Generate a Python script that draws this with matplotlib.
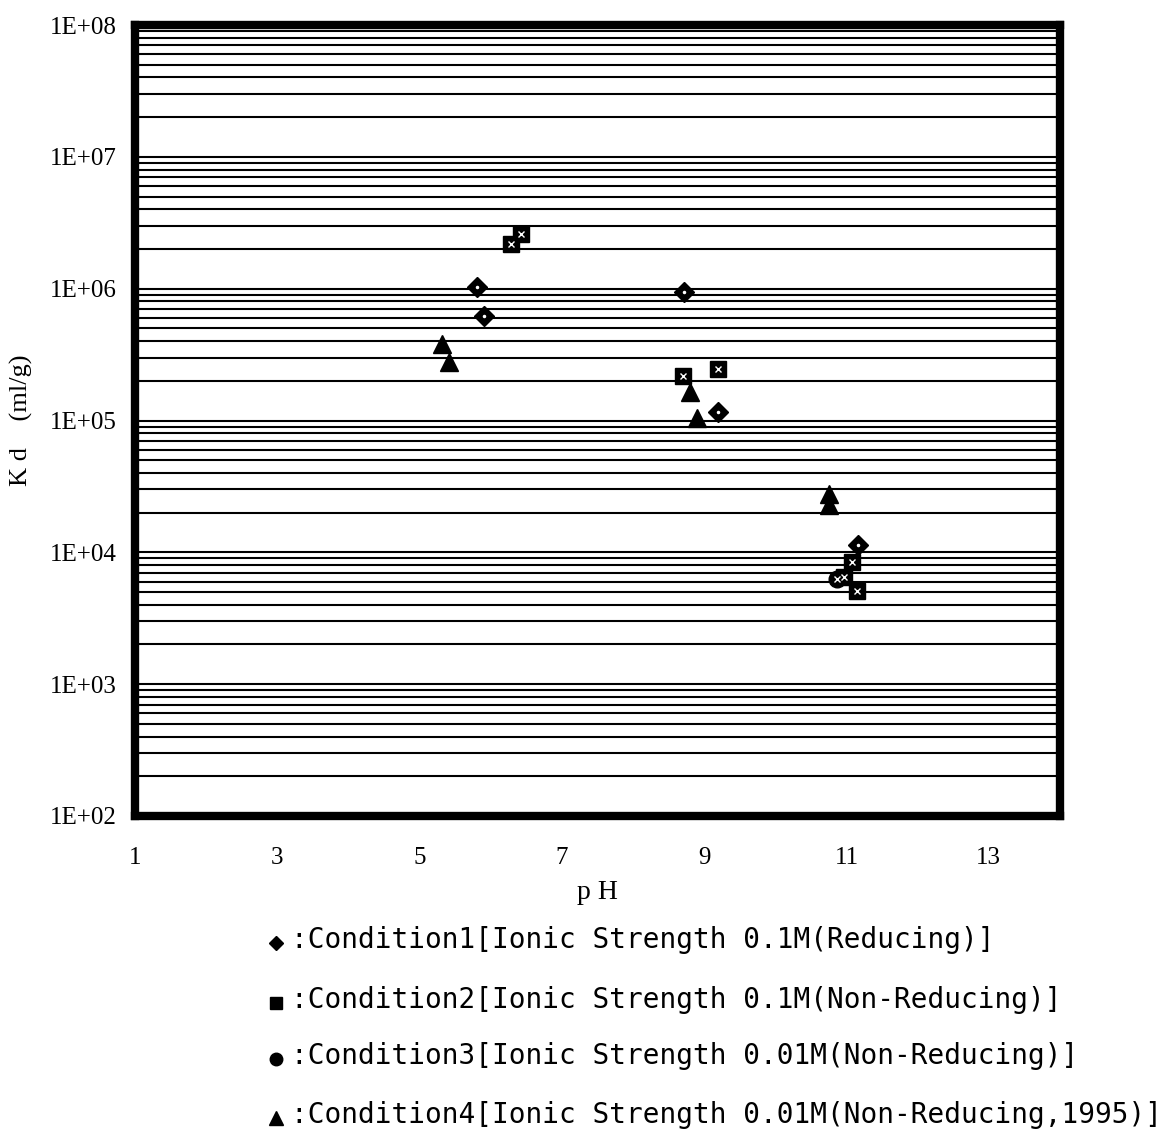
import matplotlib.pyplot as plt
from matplotlib.lines import Line2D
from matplotlib.ticker import FixedLocator, LogLocator, NullFormatter

# Kd vs pH for the four sorption conditions
ph_c1 = [5.81, 5.91, 8.71, 9.19, 11.16]
kd_c1 = [1.03e6, 6.2e5, 9.4e5, 1.16e5, 1.13e4]

ph_c2 = [6.29, 6.42, 8.70, 9.19, 11.07, 10.97, 11.15]
kd_c2 = [2.2e6, 2.6e6, 2.17e5, 2.46e5, 8.4e3, 6.5e3, 5.1e3]

ph_c3 = [10.86]
kd_c3 = [6.3e3]

ph_c4 = [5.31, 5.41, 8.80, 8.90, 10.76, 10.76]
kd_c4 = [3.8e5, 2.77e5, 1.64e5, 1.04e5, 2.75e4, 2.28e4]

x_ticks = [1, 3, 5, 7, 9, 11, 13]
y_ticks = [1e2, 1e3, 1e4, 1e5, 1e6, 1e7, 1e8]
y_labels = ["1E+02", "1E+03", "1E+04", "1E+05", "1E+06", "1E+07", "1E+08"]

labels = [
    ":Condition1[Ionic Strength 0.1M(Reducing)]",
    ":Condition2[Ionic Strength 0.1M(Non-Reducing)]",
    ":Condition3[Ionic Strength 0.01M(Non-Reducing)]",
    ":Condition4[Ionic Strength 0.01M(Non-Reducing,1995)]",
]

W, H = 1172, 1131
fig = plt.figure(figsize=(W / 100, H / 100), dpi=100)
ax = fig.add_axes([135 / W, 1 - 816 / H, (1060 - 135) / W, (816 - 25) / H])

ax.set_yscale("log")
ax.set_xlim(1, 14)
ax.set_ylim(1e2, 1e8)

# horizontal grid at every 1..9 x 10^n
ax.yaxis.set_major_locator(FixedLocator(y_ticks))
ax.yaxis.set_minor_locator(LogLocator(base=10, subs=range(2, 10), numticks=20))
ax.yaxis.set_minor_formatter(NullFormatter())
ax.grid(True, axis="y", which="both", color="black", lw=1.5)
ax.set_axisbelow(True)

ax.set_xticks(x_ticks)
ax.set_yticks(y_ticks)
ax.set_yticklabels(y_labels)
ax.tick_params(axis="both", which="both", length=0)
ax.tick_params(axis="x", pad=22)
ax.tick_params(axis="y", pad=13)
for lab in ax.get_xticklabels() + ax.get_yticklabels():
    lab.set_fontfamily("Liberation Serif")
    lab.set_fontsize(18)

for sp in ax.spines.values():
    sp.set_linewidth(6)
    sp.set_color("black")

ax.set_xlabel("p H", family="Liberation Serif", fontsize=20, labelpad=8)
ax.set_ylabel("K d    (ml/g)", family="Liberation Serif", fontsize=19, labelpad=12)

ms = 11
# black markers with small white speckles inside
ax.plot(ph_c1, kd_c1, "D", color="black", ms=ms - 1, ls="none", zorder=3)
ax.plot(ph_c1, kd_c1, ".", color="white", ms=3, ls="none", zorder=4)
ax.plot(ph_c2, kd_c2, "s", color="black", ms=ms, ls="none", zorder=3)
ax.plot(ph_c2, kd_c2, "x", color="white", ms=5, mew=1, ls="none", zorder=4)
ax.plot(ph_c3, kd_c3, "o", color="black", ms=ms + 1, ls="none", zorder=3)
ax.plot(ph_c3, kd_c3, "x", color="white", ms=5, mew=1, ls="none", zorder=4)
ax.plot(ph_c4, kd_c4, "^", color="black", ms=ms + 2, ls="none", zorder=3)

# legend below the plot, marker then text
rows_y = [940, 1000, 1056, 1115]
row_markers = [("D", 7), ("s", 8), ("o", 9), ("^", 10)]
for (mk, size), yy, text in zip(row_markers, rows_y, labels):
    fig.add_artist(Line2D([276 / W], [1 - (yy + 3) / H], transform=fig.transFigure,
                          marker=mk, ms=size, color="black", ls="none"))
    fig.text(291 / W, 1 - yy / H, text, family="DejaVu Sans Mono", fontsize=20,
             va="center", ha="left")

fig.savefig("out.png", dpi=100)
